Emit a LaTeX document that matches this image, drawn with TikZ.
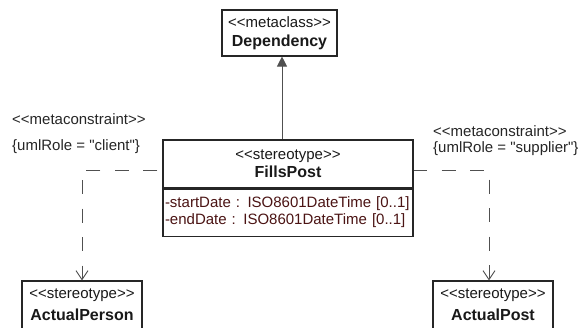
\documentclass[tikz,border=0pt]{standalone}
\usepackage{fontspec}
\setmainfont{Liberation Sans}
\usetikzlibrary{arrows.meta,positioning}
\definecolor{attrred}{RGB}{75,20,20}
\definecolor{linegray}{RGB}{80,80,80}
\newcommand{\stereo}[1]{<{}<#1>{}>}
\newcommand{\clsname}[1]{{\fontsize{16}{18}\selectfont\bfseries #1}}
\tikzset{
  umlbox/.style={draw=black!85, line width=1.1pt, fill=white, inner sep=0pt, align=center, text=black!90},
  lbl/.style={anchor=west, inner sep=0pt, text=black!85},
  realize/.style={draw=linegray, line width=0.9pt, dash pattern=on 14pt off 14.5pt,
    -{Straight Barb[length=9pt,width=12pt]}},
  extend/.style={draw=linegray, line width=0.9pt, -{Triangle[length=10pt,width=10pt]}}
}
\begin{document}
\begin{tikzpicture}[x=1pt,y=-1pt,font=\fontsize{15}{18}\selectfont]
\clip (0,0) rectangle (583,327);
\fill[white] (0,0) rectangle (583,327);

\node[umlbox, minimum width=115pt, minimum height=46pt] (dep) at (279.5,33) {\stereo{metaclass}\\[1pt]\clsname{Dependency}};
\node[umlbox, minimum width=250pt, minimum height=48pt] (fph) at (288,164) {\stereo{stereotype}\\\clsname{FillsPost}};
\node[umlbox, minimum width=250pt, minimum height=47pt, below=0pt of fph, align=left, text width=246pt, text=attrred] (fpa)
  {-startDate : ISO8601DateTime [0..1]\\[-1pt]-endDate : ISO8601DateTime [0..1]};

\node[umlbox, minimum width=120pt, minimum height=48pt] (aperson) at (82,305) {\stereo{stereotype}\\[4pt]\clsname{ActualPerson}};
\node[umlbox, minimum width=120pt, minimum height=48pt] (apost) at (493,305) {\stereo{stereotype}\\[4pt]\clsname{ActualPost}};

\node[lbl] (lcons) at (12,119) {\stereo{metaconstraint}};
\node[lbl] (lrole) at (12,147) {\{umlRole = \textquotedbl client\textquotedbl\}};
\node[lbl] (rcons) at (433,131) {\stereo{metaconstraint}};
\node[lbl] (rrole) at (433,149) {\{umlRole = \textquotedbl supplier\textquotedbl\}};

\coordinate (gen) at (282,100);
\coordinate (lbend) at (82,170);
\coordinate (rbend) at (489,170);
\draw[extend] (fph.north -| gen) -- (dep.south -| gen);
\draw[realize, dash phase=23.5pt] (fph.west |- lbend) -- (lbend) -- (aperson.north);
\draw[realize, dash phase=0.5pt] (fph.east |- rbend) -- (rbend) -- (rbend |- apost.north);
\end{tikzpicture}
\end{document}
